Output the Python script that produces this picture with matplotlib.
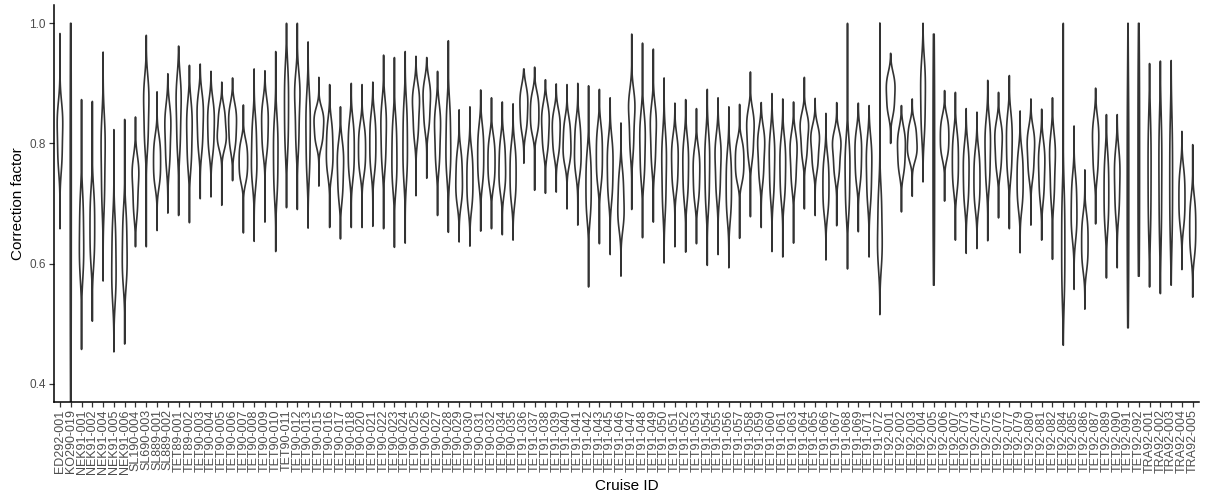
import numpy as np
import matplotlib
matplotlib.use("Agg")
import matplotlib.pyplot as plt

plt.rcParams["font.family"] = ["Liberation Sans", "DejaVu Sans"]

cruise_ids = [
    "ED292-001", "KO290-019", "NEK91-001", "NEK91-002", "NEK91-004", "NEK91-005",
    "NEK91-006", "SL190-004", "SL690-003", "SL889-001", "SL889-002", "TET89-001",
    "TET89-002", "TET90-003", "TET90-004", "TET90-005", "TET90-006", "TET90-007",
    "TET90-008", "TET90-009", "TET90-010", "TET90-011", "TET90-012", "TET90-013",
    "TET90-015", "TET90-016", "TET90-017", "TET90-018", "TET90-020", "TET90-021",
    "TET90-022", "TET90-023", "TET90-024", "TET90-025", "TET90-026", "TET90-027",
    "TET90-028", "TET90-029", "TET90-030", "TET90-031", "TET90-032", "TET90-034",
    "TET90-035", "TET91-036", "TET91-037", "TET91-038", "TET91-039", "TET91-040",
    "TET91-041", "TET91-042", "TET91-043", "TET91-045", "TET91-046", "TET91-047",
    "TET91-048", "TET91-049", "TET91-050", "TET91-051", "TET91-052", "TET91-053",
    "TET91-054", "TET91-055", "TET91-056", "TET91-057", "TET91-058", "TET91-059",
    "TET91-060", "TET91-061", "TET91-063", "TET91-064", "TET91-065", "TET91-066",
    "TET91-067", "TET91-068", "TET91-069", "TET91-071", "TET91-072", "TET92-001",
    "TET92-002", "TET92-003", "TET92-004", "TET92-005", "TET92-006", "TET92-007",
    "TET92-073", "TET92-074", "TET92-075", "TET92-076", "TET92-077", "TET92-079",
    "TET92-080", "TET92-081", "TET92-082", "TET92-084", "TET92-085", "TET92-086",
    "TET92-087", "TET92-089", "TET92-090", "TET92-091", "TET92-092", "TRA92-001",
    "TRA92-002", "TRA92-003", "TRA92-004", "TRA92-005",
]

# smallest correction factor per cruise
lower_tail = [
    0.658, 0.300, 0.457, 0.504, 0.571, 0.453, 0.466, 0.628, 0.628, 0.655,
    0.684, 0.680, 0.668, 0.708, 0.711, 0.697, 0.738, 0.651, 0.637, 0.669,
    0.620, 0.693, 0.690, 0.659, 0.729, 0.660, 0.641, 0.660, 0.660, 0.662,
    0.658, 0.627, 0.634, 0.713, 0.742, 0.680, 0.652, 0.636, 0.629, 0.654,
    0.658, 0.648, 0.639, 0.767, 0.722, 0.717, 0.719, 0.691, 0.664, 0.561,
    0.633, 0.615, 0.579, 0.690, 0.643, 0.669, 0.601, 0.628, 0.619, 0.633,
    0.597, 0.615, 0.593, 0.642, 0.678, 0.660, 0.620, 0.611, 0.634, 0.691,
    0.680, 0.606, 0.663, 0.591, 0.653, 0.611, 0.515, 0.800, 0.686, 0.712,
    0.736, 0.564, 0.704, 0.639, 0.617, 0.625, 0.638, 0.676, 0.658, 0.618,
    0.664, 0.639, 0.607, 0.464, 0.557, 0.524, 0.666, 0.576, 0.593, 0.493,
    0.579, 0.561, 0.550, 0.564, 0.590, 0.544,
]

# largest correction factor per cruise
upper_tail = [
    0.983, 1.000, 0.873, 0.870, 0.952, 0.823, 0.840, 0.844, 0.980, 0.886,
    0.916, 0.962, 0.930, 0.932, 0.920, 0.902, 0.909, 0.864, 0.924, 0.921,
    0.953, 1.000, 1.000, 0.969, 0.910, 0.898, 0.861, 0.900, 0.898, 0.902,
    0.947, 0.943, 0.953, 0.945, 0.943, 0.920, 0.971, 0.856, 0.861, 0.889,
    0.876, 0.869, 0.866, 0.924, 0.927, 0.906, 0.899, 0.898, 0.900, 0.896,
    0.890, 0.876, 0.834, 0.982, 0.967, 0.957, 0.909, 0.867, 0.873, 0.858,
    0.890, 0.876, 0.861, 0.865, 0.919, 0.868, 0.883, 0.874, 0.869, 0.910,
    0.875, 0.850, 0.868, 1.000, 0.867, 0.863, 1.000, 0.950, 0.863, 0.874,
    1.000, 0.982, 0.888, 0.885, 0.858, 0.852, 0.905, 0.885, 0.913, 0.854,
    0.874, 0.857, 0.876, 1.000, 0.829, 0.756, 0.892, 0.848, 0.848, 1.000,
    1.000, 0.933, 0.937, 0.938, 0.820, 0.798,
]

# bulk of the correction factors for each cruise
body_values = [
    [0.765, 0.790, 0.820, 0.840, 0.858], [0.450, 0.580, 0.700, 0.820, 0.930],
    [0.586, 0.613, 0.640, 0.673, 0.706], [0.606, 0.633, 0.660, 0.687, 0.714],
    [0.702, 0.741, 0.780, 0.807, 0.834], [0.546, 0.573, 0.600, 0.633, 0.666],
    [0.572, 0.596, 0.620, 0.650, 0.680], [0.686, 0.713, 0.740, 0.755, 0.770],
    [0.800, 0.830, 0.860, 0.881, 0.902], [0.734, 0.752, 0.770, 0.788, 0.806],
    [0.766, 0.793, 0.820, 0.838, 0.856], [0.794, 0.827, 0.860, 0.881, 0.902],
    [0.766, 0.793, 0.820, 0.841, 0.862], [0.792, 0.816, 0.840, 0.858, 0.876],
    [0.788, 0.809, 0.830, 0.848, 0.866], [0.796, 0.808, 0.820, 0.838, 0.856],
    [0.794, 0.812, 0.830, 0.845, 0.860], [0.740, 0.755, 0.770, 0.785, 0.800],
    [0.738, 0.759, 0.780, 0.807, 0.834], [0.788, 0.809, 0.830, 0.848, 0.866],
    [0.720, 0.750, 0.780, 0.807, 0.834], [0.794, 0.827, 0.860, 0.890, 0.920],
    [0.798, 0.834, 0.870, 0.888, 0.906], [0.754, 0.787, 0.820, 0.847, 0.874],
    [0.800, 0.815, 0.830, 0.842, 0.854], [0.754, 0.772, 0.790, 0.811, 0.832],
    [0.712, 0.736, 0.760, 0.778, 0.796], [0.748, 0.769, 0.790, 0.811, 0.832],
    [0.754, 0.772, 0.790, 0.808, 0.826], [0.758, 0.779, 0.800, 0.821, 0.842],
    [0.766, 0.793, 0.820, 0.841, 0.862], [0.732, 0.756, 0.780, 0.807, 0.834],
    [0.746, 0.773, 0.800, 0.830, 0.860], [0.812, 0.836, 0.860, 0.875, 0.890],
    [0.828, 0.849, 0.870, 0.885, 0.900], [0.766, 0.793, 0.820, 0.838, 0.856],
    [0.752, 0.776, 0.800, 0.830, 0.860], [0.704, 0.722, 0.740, 0.761, 0.782],
    [0.698, 0.719, 0.740, 0.761, 0.782], [0.738, 0.759, 0.780, 0.801, 0.822],
    [0.734, 0.752, 0.770, 0.788, 0.806], [0.724, 0.742, 0.760, 0.781, 0.802],
    [0.708, 0.729, 0.750, 0.771, 0.792], [0.824, 0.842, 0.860, 0.875, 0.890],
    [0.820, 0.835, 0.850, 0.865, 0.880], [0.790, 0.810, 0.830, 0.845, 0.860],
    [0.784, 0.802, 0.820, 0.835, 0.850], [0.770, 0.785, 0.800, 0.818, 0.836],
    [0.754, 0.772, 0.790, 0.811, 0.832], [0.682, 0.706, 0.730, 0.754, 0.778],
    [0.738, 0.759, 0.780, 0.801, 0.822], [0.712, 0.736, 0.760, 0.781, 0.802],
    [0.664, 0.682, 0.700, 0.724, 0.748], [0.790, 0.820, 0.850, 0.865, 0.880],
    [0.746, 0.773, 0.800, 0.821, 0.842], [0.766, 0.793, 0.820, 0.838, 0.856],
    [0.694, 0.727, 0.760, 0.784, 0.808], [0.728, 0.749, 0.770, 0.788, 0.806],
    [0.712, 0.736, 0.760, 0.781, 0.802], [0.708, 0.729, 0.750, 0.768, 0.786],
    [0.700, 0.730, 0.760, 0.784, 0.808], [0.716, 0.743, 0.770, 0.788, 0.806],
    [0.682, 0.706, 0.730, 0.754, 0.778], [0.740, 0.755, 0.770, 0.785, 0.800],
    [0.778, 0.799, 0.820, 0.835, 0.850], [0.742, 0.766, 0.790, 0.805, 0.820],
    [0.716, 0.743, 0.770, 0.791, 0.812], [0.712, 0.736, 0.760, 0.781, 0.802],
    [0.732, 0.756, 0.780, 0.795, 0.810], [0.778, 0.799, 0.820, 0.832, 0.844],
    [0.760, 0.780, 0.800, 0.812, 0.824], [0.688, 0.709, 0.730, 0.751, 0.772],
    [0.748, 0.769, 0.790, 0.802, 0.814], [0.690, 0.720, 0.750, 0.774, 0.798],
    [0.738, 0.759, 0.780, 0.798, 0.816], [0.706, 0.733, 0.760, 0.781, 0.802],
    [0.602, 0.626, 0.650, 0.683, 0.716], [0.852, 0.868, 0.885, 0.898, 0.912],
    [0.754, 0.772, 0.790, 0.805, 0.820], [0.776, 0.788, 0.800, 0.815, 0.830],
    [0.820, 0.850, 0.880, 0.905, 0.930], [0.620, 0.700, 0.780, 0.860, 0.940],
    [0.780, 0.795, 0.810, 0.825, 0.840], [0.728, 0.749, 0.770, 0.791, 0.812],
    [0.702, 0.726, 0.750, 0.771, 0.792], [0.698, 0.719, 0.740, 0.761, 0.782],
    [0.736, 0.763, 0.790, 0.811, 0.832], [0.758, 0.779, 0.800, 0.815, 0.830],
    [0.752, 0.776, 0.800, 0.821, 0.842], [0.698, 0.719, 0.740, 0.761, 0.782],
    [0.748, 0.769, 0.790, 0.805, 0.820], [0.712, 0.736, 0.760, 0.778, 0.796],
    [0.710, 0.740, 0.770, 0.788, 0.806], [0.550, 0.590, 0.630, 0.670, 0.710],
    [0.648, 0.669, 0.690, 0.714, 0.738], [0.596, 0.615, 0.635, 0.655, 0.674],
    [0.752, 0.776, 0.800, 0.818, 0.836], [0.666, 0.693, 0.720, 0.747, 0.774],
    [0.686, 0.713, 0.740, 0.761, 0.782], [0.560, 0.640, 0.720, 0.800, 0.880],
    [0.620, 0.700, 0.780, 0.860, 0.940], [0.660, 0.705, 0.750, 0.790, 0.830],
    [0.650, 0.700, 0.750, 0.790, 0.830], [0.650, 0.695, 0.740, 0.785, 0.830],
    [0.668, 0.689, 0.710, 0.731, 0.752], [0.618, 0.639, 0.660, 0.681, 0.702],
]

y_ticks = [0.4, 0.6, 0.8, 1.0]


def bandwidth_nrd0(x):
    x = np.asarray(x)
    sd = np.std(x, ddof=1)
    q75, q25 = np.percentile(x, [75, 25])
    spread = min(sd, (q75 - q25) / 1.34)
    return 0.9 * spread * len(x) ** (-0.2)


def kde_profile(bulk, lo, hi, n=512):
    bulk = np.asarray(bulk)
    bw = bandwidth_nrd0(bulk)
    y = np.linspace(lo, hi, n)
    z = (y[:, None] - bulk[None, :]) / bw
    dens = np.exp(-0.5 * z ** 2).sum(axis=1) / (len(bulk) * bw * np.sqrt(2 * np.pi))
    return y, dens


profiles = [kde_profile(b, lo, hi) for b, lo, hi in zip(body_values, lower_tail, upper_tail)]
peak = max(d.max() for _, d in profiles)
half_width = 0.45  # violins share one area scale

fig = plt.figure(figsize=(12.07, 4.99), dpi=100)
ax = fig.add_axes([53.5 / 1207, 1 - 401.7 / 499, (1199.2 - 53.5) / 1207, (401.7 - 5.3) / 499])

for i, (y, d) in enumerate(profiles):
    w = half_width * d / peak
    ax.fill(np.concatenate([i - w, (i + w)[::-1]]), np.concatenate([y, y[::-1]]),
            facecolor="white", edgecolor="#333333", linewidth=1.2, joinstyle="round")

ax.set_xlim(-0.6, len(cruise_ids) - 1 + 0.6)
ax.set_ylim(0.37, 1.03)
ax.set_xticks(range(len(cruise_ids)))
ax.set_xticklabels(cruise_ids, rotation=90, fontsize=9, color="#4d4d4d")
ax.set_yticks(y_ticks)
ax.set_yticklabels([f"{t:.1f}" for t in y_ticks], fontsize=8.5, color="#4d4d4d")
ax.tick_params(axis="both", length=3.5, width=0.9, color="#333333", pad=2)

for side in ("top", "right"):
    ax.spines[side].set_visible(False)
for side in ("left", "bottom"):
    ax.spines[side].set_linewidth(1.1)
    ax.spines[side].set_color("black")

ax.set_xlabel("Cruise ID", fontsize=11, color="black", labelpad=4)
ax.set_ylabel("Correction factor", fontsize=11, color="black", labelpad=3)

fig.savefig("out.png", dpi=100)
